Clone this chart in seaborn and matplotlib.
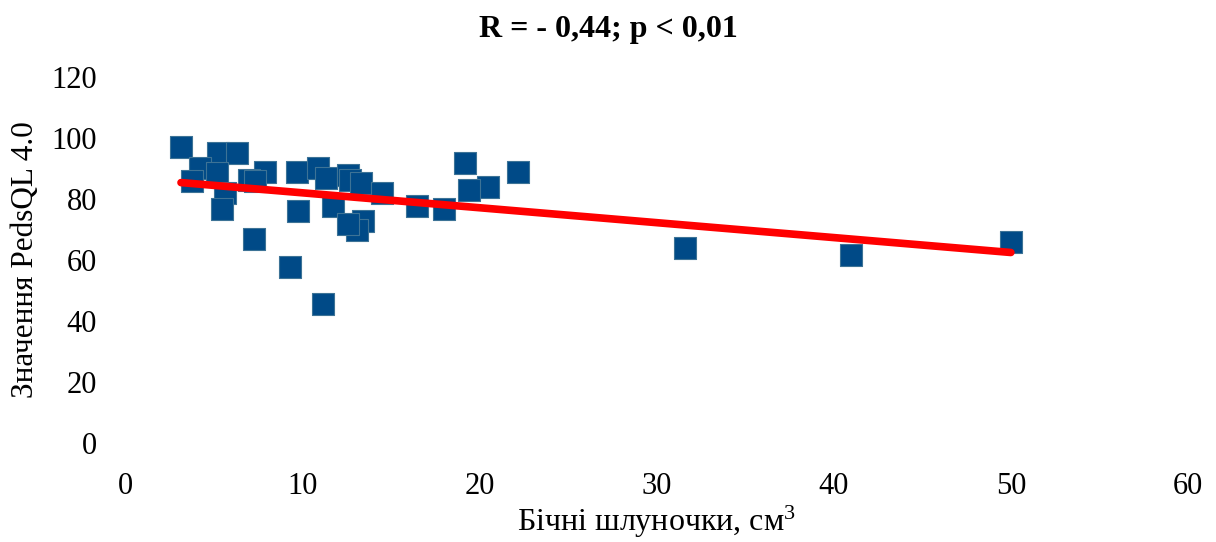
import numpy as np
import pandas as pd
import matplotlib
matplotlib.use("Agg")
import matplotlib.pyplot as plt
import seaborn as sns

ventricles = [3.16, 5.25, 6.32, 4.23, 5.19, 3.78, 5.64, 5.47, 7.90, 7.00, 7.34, 9.71,
              10.89, 11.34, 12.58, 12.70, 13.32, 14.50, 11.74, 9.76, 13.43, 13.09,
              12.58, 7.28, 9.31, 11.17, 19.19, 22.18, 20.49, 19.41, 16.48, 18.00,
              31.6, 40.97, 50.0]
pedsql = [97.0, 95.1, 95.1, 90.2, 88.5, 85.9, 82.0, 76.7, 88.9, 86.2, 85.9, 88.9,
          90.2, 86.9, 87.9, 86.2, 85.2, 82.0, 77.7, 76.1, 72.8, 69.8,
          71.8, 66.9, 57.7, 45.6, 91.8, 88.9, 83.9, 83.0, 77.7, 76.7,
          63.9, 61.6, 65.9]

x_ticks = [0, 10, 20, 30, 40, 50, 60]
y_ticks = [0, 20, 40, 60, 80, 100, 120]
title = "R = - 0,44; p < 0,01"
xlabel = "Бічні шлуночки, см$^{3}$"
ylabel = "Значення PedsQL 4.0"

df = pd.DataFrame({"x": ventricles, "y": pedsql})

sns.set_theme(style="white")
plt.rcParams['font.family'] = ['Liberation Serif', 'DejaVu Serif']
plt.rcParams['mathtext.fontset'] = 'custom'
plt.rcParams['mathtext.rm'] = 'Liberation Serif'
plt.rcParams['mathtext.it'] = 'Liberation Serif'
plt.rcParams['mathtext.default'] = 'regular'

fig = plt.figure(figsize=(12.16, 5.42), dpi=100)
ax = fig.add_axes([0.1028, 0.1827, 0.8742, 0.6753])

sns.scatterplot(data=df, x="x", y="y", ax=ax, marker="s", s=260,
                color="#004A87", edgecolor="#3D7396", linewidth=0.8, zorder=3)
sns.regplot(data=df, x="x", y="y", ax=ax, scatter=False, ci=None,
            line_kws={"color": "#FF0000", "linewidth": 5.5, "solid_capstyle": "round", "zorder": 4})

ax.set_xlim(0, 60)
ax.set_ylim(0, 120)
ax.set_xticks(x_ticks)
ax.set_yticks(y_ticks)
ax.tick_params(axis="both", labelsize=22, length=0, colors="black")
ax.tick_params(axis="x", pad=21)
ax.tick_params(axis="y", pad=20)
for s in ax.spines.values():
    s.set_visible(False)
ax.grid(False)

ax.set_xlabel(xlabel, fontsize=23, color="black", labelpad=2)
ax.set_ylabel(ylabel, fontsize=22.5, color="black", labelpad=8)
fig.text(0.5, 1 - 37 / 542, title, fontsize=23, fontweight="bold", color="black",
         ha="center", va="baseline")

fig.savefig("out.png", dpi=100)
